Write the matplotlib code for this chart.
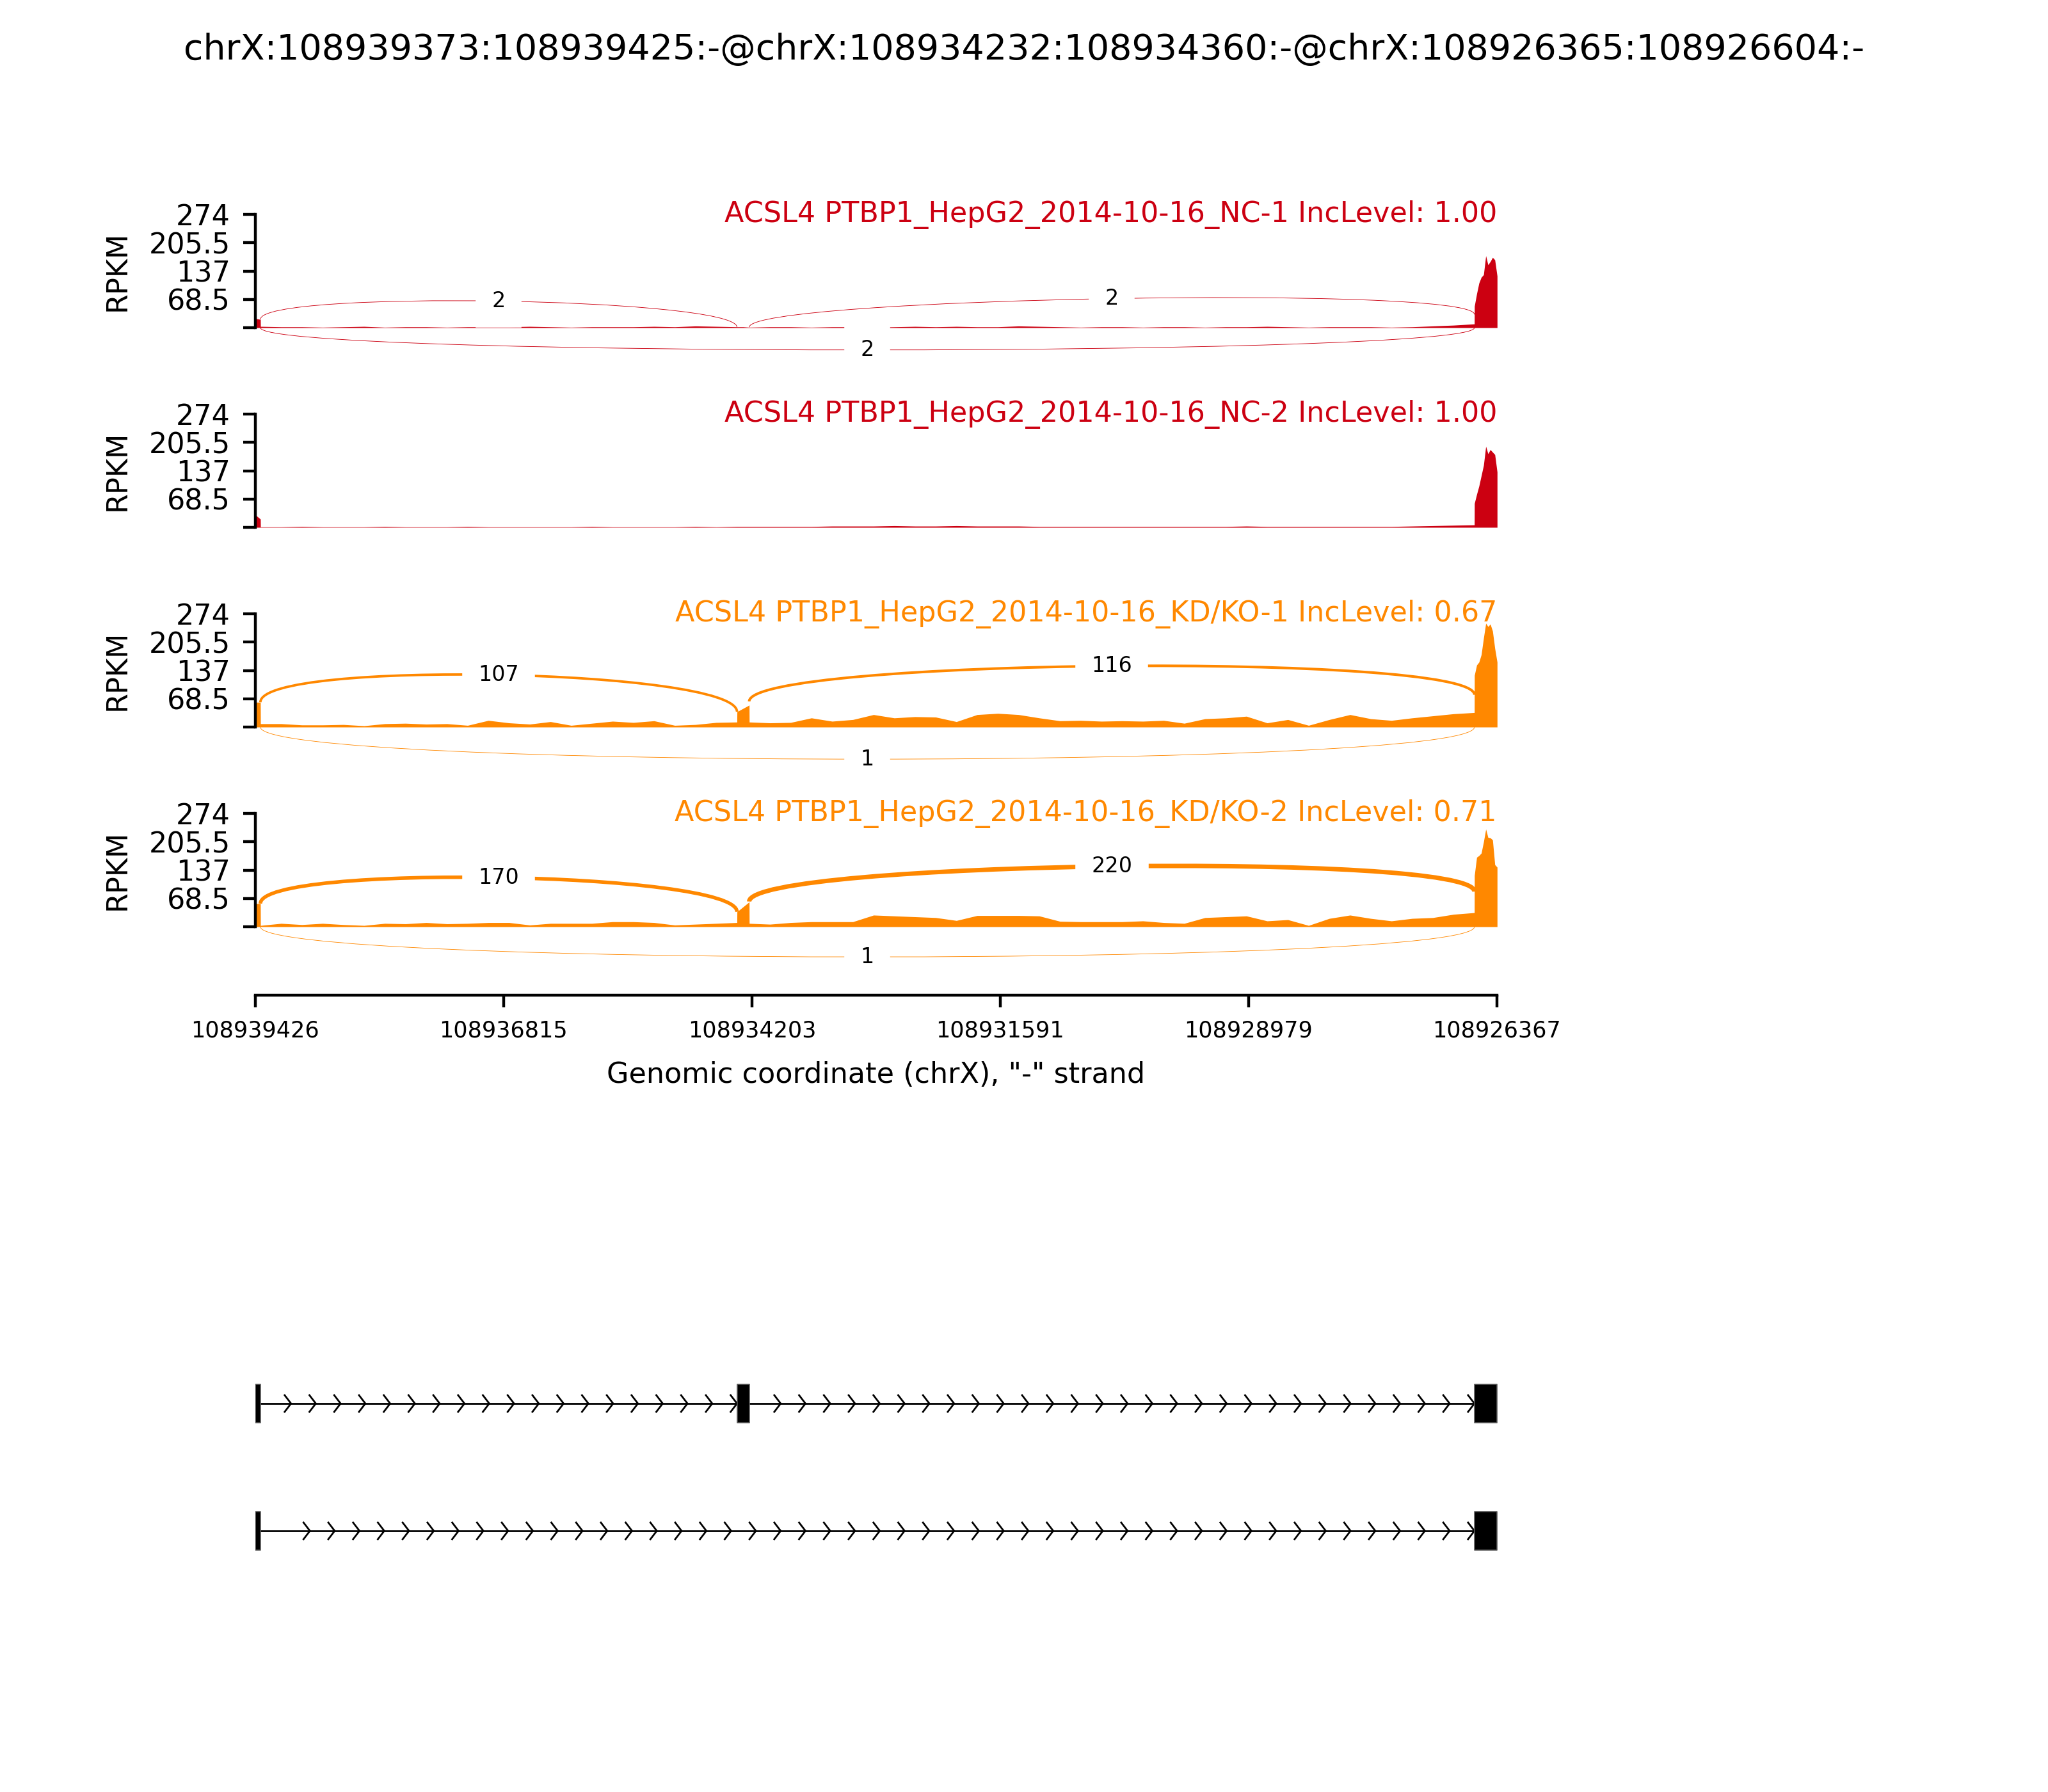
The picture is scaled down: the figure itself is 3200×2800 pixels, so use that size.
import numpy as np
import matplotlib
matplotlib.use("Agg")
import matplotlib.pyplot as plt
from matplotlib.path import Path
from matplotlib.patches import PathPatch


# ==============================
# DATA
# ==============================
event_title = "chrX:108939373:108939425:-@chrX:108934232:108934360:-@chrX:108926365:108926604:-"

sample_names = [
    "ACSL4 PTBP1_HepG2_2014-10-16_NC-1",
    "ACSL4 PTBP1_HepG2_2014-10-16_NC-2",
    "ACSL4 PTBP1_HepG2_2014-10-16_KD/KO-1",
    "ACSL4 PTBP1_HepG2_2014-10-16_KD/KO-2",
]
inc_levels = [1.00, 1.00, 0.67, 0.71]
sample_colors = ["#CC0011", "#CC0011", "#FF8800", "#FF8800"]

# exons (genomic coords, minus strand)
exon_starts = [108939373, 108934232, 108926365]
exon_ends = [108939425, 108934360, 108926604]
isoforms = [[0, 1, 2], [0, 2]]

x_left = 108939426
x_right = 108926367
xtick_pos = [108939426, 108936815, 108934203, 108931591, 108928979, 108926367]
ytick_vals = [0, 68.5, 137, 205.5, 274]
ytick_labels = ["", "68.5", "137", "205.5", "274"]

# coverage knots (RPKM)
exon1_pos = [108939425, 108939373]
exon2_pos = [108934360, 108934296, 108934232]
exon3_pos = [108926604, 108926580, 108926556, 108926532, 108926508, 108926484,
             108926461, 108926437, 108926413, 108926389, 108926365]
n_intron1 = 24
n_intron2 = 36

cov_exon1 = [
    [22, 20],
    [30, 20],
    [60, 60],
    [56, 56],
]
cov_intron1 = [
    [3, 2, 2, 1, 2, 3, 1, 2, 2, 1, 2, 2, 2, 3, 2, 1, 2, 2, 2, 3, 2, 4, 3, 2],
    [1, 1, 2, 1, 1, 1, 2, 1, 1, 1, 2, 1, 1, 1, 1, 1, 2, 1, 1, 1, 1, 2, 1, 2],
    [8, 8, 5, 5, 6, 3, 8, 9, 7, 8, 4, 16, 10, 7, 13, 4, 9, 14, 11, 15, 4, 6, 11, 12],
    [3, 8, 5, 8, 5, 3, 8, 7, 10, 7, 8, 10, 10, 4, 8, 8, 8, 12, 12, 10, 4, 6, 8, 10],
]
cov_exon2 = [
    [2, 2, 1],
    [2, 2, 2],
    [37, 45, 53],
    [36, 48, 60],
]
cov_intron2 = [
    [1, 2, 2, 1, 2, 2, 1, 2, 3, 2, 3, 2, 2, 4, 3, 2, 1, 2,
     2, 1, 2, 2, 1, 2, 2, 3, 2, 1, 2, 2, 2, 1, 2, 4, 6, 9],
    [2, 2, 2, 2, 3, 3, 3, 4, 3, 3, 4, 3, 3, 3, 2, 2, 2, 2,
     2, 2, 2, 2, 2, 2, 3, 2, 2, 2, 2, 2, 2, 2, 3, 4, 5, 6],
    [12, 10, 11, 22, 14, 18, 30, 22, 25, 24, 13, 30, 33, 30, 22, 15, 16, 14,
     15, 14, 16, 9, 20, 22, 26, 10, 18, 4, 18, 30, 20, 16, 22, 27, 32, 35],
    [8, 6, 10, 12, 12, 12, 28, 26, 24, 22, 15, 27, 27, 27, 26, 13, 12, 12,
     12, 14, 10, 8, 22, 24, 26, 14, 17, 3, 20, 28, 20, 14, 20, 22, 30, 34],
]
cov_exon3 = [
    [52, 82, 108, 122, 128, 174, 152, 160, 170, 164, 125],
    [58, 80, 100, 125, 150, 196, 178, 188, 182, 176, 134],
    [125, 150, 157, 175, 215, 251, 243, 249, 232, 190, 157],
    [124, 168, 172, 178, 205, 236, 216, 215, 210, 150, 144],
]

# junctions: exon1->exon2, exon2->exon3 (above), exon1->exon3 (below)
jxn_starts = [108939373, 108934232, 108939373]
jxn_ends = [108934360, 108926604, 108926604]
jxn_above = [True, True, False]
jxn_counts = [
    [2, 2, 2],
    [0, 0, 0],
    [107, 116, 1],
    [170, 220, 1],
]
jxn_y_start = [
    [20, 1, 0],
    [0, 0, 0],
    [60, 62, 0],
    [56, 61, 0],
]
jxn_y_end = [
    [1, 32, 0],
    [0, 0, 0],
    [37, 78, 0],
    [36, 85, 0],
]


# ==============================
# LAYOUT (pixels of the 3200x2800 output)
# ==============================
W, H = 3200, 2800
ax_l = 399 / W
ax_w = 1940 / W
px_unit = 274 / 177.0
zero_px = [512, 824, 1136, 1448]
below_px, above_px = 95, 205

fig = plt.figure(figsize=(8, 7), dpi=400)
fig.text(0.5, 1 - 78 / H, event_title, ha="center", va="center", fontsize=10)

# intron knot positions
intron1_pos = np.linspace(exon_starts[0] - 1, exon_ends[1] + 1, n_intron1)
intron2_pos = np.linspace(exon_starts[1] - 1, exon_ends[2] + 1, n_intron2)
all_pos = np.concatenate([exon1_pos, intron1_pos, exon2_pos, intron2_pos, exon3_pos])

ymin = -below_px * px_unit
ymax = above_px * px_unit

for i in range(len(sample_names)):
    bottom = 1 - (zero_px[i] + below_px) / H
    ax = fig.add_axes([ax_l, bottom, ax_w, (below_px + above_px) / H])
    color = sample_colors[i]

    cov = np.concatenate([cov_exon1[i], cov_intron1[i], cov_exon2[i],
                          cov_intron2[i], cov_exon3[i]]).astype(float)
    ax.fill_between(all_pos, cov, 0, color=color, lw=0)

    # junction arcs
    h = 0.75 * 0.5 * 1.1 * cov.max()
    for j in range(len(jxn_starts)):
        n = jxn_counts[i][j]
        if n <= 0:
            continue
        s, e = jxn_starts[j], jxn_ends[j]
        if jxn_above[j]:
            y1, y2 = jxn_y_start[i][j], jxn_y_end[i][j]
            pts = [(s, y1), (s, y1 + h), (e, y2 + h), (e, y2)]
        else:
            pts = [(s, 0), (s, -h), (e, -h), (e, 0)]
        path = Path(pts, [Path.MOVETO, Path.CURVE4, Path.CURVE4, Path.CURVE4])
        ax.add_patch(PathPatch(path, ec=color, fc="none", lw=0.15 + 0.005 * n))
        p = np.array(pts, dtype=float)
        mid = 0.125 * p[0] + 0.375 * p[1] + 0.375 * p[2] + 0.125 * p[3]
        ax.text(mid[0], mid[1], str(n), fontsize=6, ha="center", va="center",
                backgroundcolor="w", zorder=5)

    ax.set_xlim(x_left, x_right)
    ax.set_ylim(ymin, ymax)

    ax.spines["top"].set_visible(False)
    ax.spines["right"].set_visible(False)
    ax.spines["left"].set_bounds(0, 274)
    ax.set_yticks(ytick_vals)
    ax.set_yticklabels(ytick_labels, fontsize=8)
    ax.set_ylabel("RPKM", fontsize=8, labelpad=5, y=(137 - ymin) / (ymax - ymin))

    ax.text(x_right, 274, f"{sample_names[i]} IncLevel: {inc_levels[i]:.2f}",
            ha="right", va="center", color=color, fontsize=8)

    if i < len(sample_names) - 1:
        ax.spines["bottom"].set_visible(False)
        ax.set_xticks([])
    else:
        ax.spines["bottom"].set_bounds(x_left, x_right)
        ax.spines["bottom"].set_position(("outward", 12 / 400 * 72))
        ax.set_xticks(xtick_pos)
        ax.set_xticklabels([str(t) for t in xtick_pos], fontsize=6.3)
        ax.set_xlabel('Genomic coordinate (chrX), "-" strand', fontsize=8,
                      labelpad=5.5)


# ==============================
# GENE STRUCTURE
# ==============================
row_px = 199
gax = fig.add_axes([ax_l, 1 - (2193 + 1.5 * row_px) / H, ax_w, 2 * row_px / H])
gax.set_xlim(x_left, x_right)
gax.set_ylim(-1.5, 0.5)
gax.axis("off")

exon_half = 30 / row_px
chev_half = 13 / row_px
chev_w = 67
chev_step = 260.6

for k, iso in enumerate(isoforms):
    y = -k
    gax.plot([exon_starts[iso[0]], exon_ends[iso[-1]]], [y, y], color="k", lw=0.5,
             zorder=1)
    for a, b in zip(iso[:-1], iso[1:]):
        tips = np.arange(exon_ends[b], exon_starts[a] - 300, chev_step)
        for t in tips:
            gax.plot([t + chev_w, t, t + chev_w], [y + chev_half, y, y - chev_half],
                     color="k", lw=0.5, zorder=1)
    for e in iso:
        gax.fill_between([exon_starts[e], exon_ends[e]], y - exon_half, y + exon_half,
                         color="k", lw=0.3, ec="#555555", zorder=3)

fig.savefig("out.png", dpi=400)
